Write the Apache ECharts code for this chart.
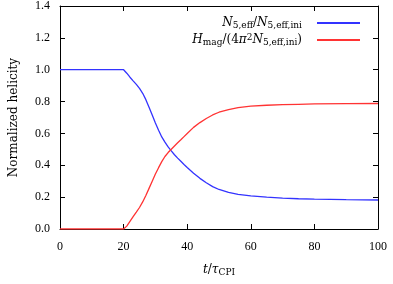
<!DOCTYPE html>
<html><head><meta charset="utf-8">
<script src="https://cdn.jsdelivr.net/npm/echarts@6/dist/echarts.min.js"></script>
<style>html,body{margin:0;padding:0;background:#fff}#c{width:393px;height:284px}</style>
</head><body><div id="c"></div>
<script>
const tValues = [0,10,20,20.5,21,22,23,24,25,26,27,28,29,30,31,32,33,34,35,36,37,38,39,40,42,44,46,48,50,53,56,60,65,70,75,80,90,100];
const nRatio = [1.0,1.0,1.0,0.993,0.978,0.953,0.93,0.908,0.883,0.852,0.812,0.765,0.715,0.665,0.62,0.578,0.545,0.515,0.49,0.466,0.445,0.425,0.405,0.386,0.35,0.318,0.29,0.266,0.248,0.23,0.218,0.208,0.2,0.194,0.19,0.187,0.184,0.182];
const hRatio = [0,0,0,0.006,0.018,0.048,0.078,0.106,0.135,0.17,0.21,0.255,0.3,0.345,0.385,0.423,0.455,0.48,0.501,0.521,0.541,0.56,0.58,0.6,0.638,0.668,0.694,0.716,0.733,0.75,0.762,0.771,0.777,0.781,0.783,0.785,0.787,0.788];
const seriesNames = ['N5', 'H'];
const legendLabels = {
  N5: '{i|N}{s|5,eff}{n|/}{i|N}{s|5,eff,ini}{g|\u00a0}',
  H: '{i|H}{s|mag}{n|/(4}{i|π}{p|2}{i|N}{s|5,eff,ini}{n|)}{g|\u00a0}'
};

const FONT = 'DejaVu Serif';
const TFONT = 'Liberation Serif';
const chart = echarts.init(document.getElementById('c'));
const axisCommon = () => ({
  axisLine: {show: true, onZero: false, lineStyle: {color: '#000', width: 1}},
  axisTick: {show: true, inside: true, length: 5, lineStyle: {color: '#000'}},
  splitLine: {show: false}
});
const rich = {
  i: {fontFamily: FONT, fontStyle: 'italic', fontSize: 12, color: '#000'},
  n: {fontFamily: FONT, fontSize: 12, color: '#000'},
  s: {fontFamily: FONT, fontSize: 9, color: '#000', verticalAlign: 'bottom', padding: [5, 0, 0, 0]},
  p: {fontFamily: FONT, fontSize: 9, color: '#000', verticalAlign: 'top', padding: [0, 0, 5, 0]},
  g: {fontSize: 12, width: 10}
};
chart.setOption({
  animation: false,
  grid: {left: 60, right: 15, top: 5, bottom: 55},
  legend: {
    orient: 'vertical', right: 28, top: 12, align: 'right',
    itemWidth: 43, itemHeight: 2, itemGap: 3, icon: 'rect',
    data: seriesNames,
    formatter: n => legendLabels[n],
    textStyle: {fontFamily: FONT, fontSize: 12, color: '#000', rich: rich}
  },
  xAxis: [
    Object.assign({type: 'value', min: 0, max: 100, interval: 20, position: 'bottom',
      name: '{i|t}{n|/}{i|τ}{s|CPI}', nameLocation: 'middle', nameGap: 34,
      nameTextStyle: {rich: rich},
      axisLabel: {fontFamily: TFONT, fontSize: 12, color: '#000', margin: 12}}, axisCommon()),
    Object.assign({type: 'value', min: 0, max: 100, interval: 20, position: 'top',
      axisLabel: {show: false}}, axisCommon())
  ],
  yAxis: [
    Object.assign({type: 'value', min: 0, max: 1.4, interval: 0.2, position: 'left',
      name: 'Normalized helicity', nameLocation: 'middle', nameGap: 40,
      nameTextStyle: {fontFamily: FONT, fontSize: 12, color: '#000'},
      axisLabel: {fontFamily: TFONT, fontSize: 12, color: '#000', margin: 10, formatter: v => v.toFixed(1)}}, axisCommon()),
    Object.assign({type: 'value', min: 0, max: 1.4, interval: 0.2, position: 'right',
      axisLabel: {show: false}}, axisCommon())
  ],
  series: [
    {name: 'N5', type: 'line', showSymbol: false, xAxisIndex: 0, yAxisIndex: 0,
      data: tValues.map((t, i) => [t, nRatio[i]]), lineStyle: {color: '#3333ff', width: 1.3}, itemStyle: {color: '#3333ff'}},
    {name: 'H', type: 'line', showSymbol: false, xAxisIndex: 0, yAxisIndex: 0,
      data: tValues.map((t, i) => [t, hRatio[i]]), lineStyle: {color: '#ff3333', width: 1.3}, itemStyle: {color: '#ff3333'}}
  ]
});
</script></body></html>
